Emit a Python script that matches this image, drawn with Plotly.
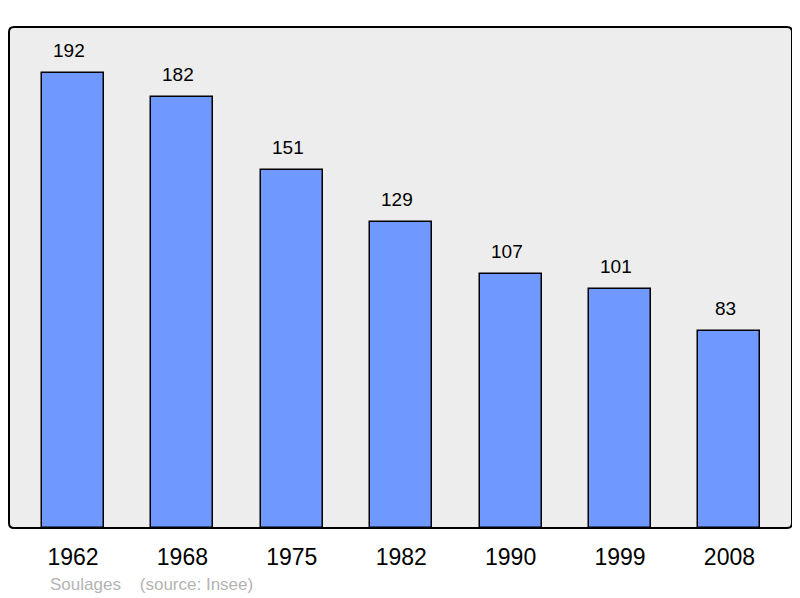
import plotly.graph_objects as go

years = ["1962", "1968", "1975", "1982", "1990", "1999", "2008"]
population = [192, 182, 151, 129, 107, 101, 83]
commune = "Soulages"
source = "(source: Insee)"

xpos = list(range(len(years)))
FONT = "Liberation Sans, Arial, sans-serif"

fig = go.Figure()
fig.add_trace(go.Bar(
    x=xpos, y=population, width=0.567,
    marker=dict(color="#7099ff", line=dict(color="#000000", width=1.5)),
    hoverinfo="skip",
))

for x, v in zip(xpos, population):
    fig.add_annotation(x=x, y=v, text=str(v), showarrow=False,
                       yanchor="bottom", yshift=10, xshift=-4,
                       font=dict(family=FONT, size=19, color="#000000"))

fig.add_annotation(xref="paper", yref="paper", x=0.0498, y=-0.1118,
                   xanchor="left", yanchor="middle", showarrow=False,
                   text=commune + "&nbsp;&nbsp;&nbsp;&nbsp;" + source,
                   font=dict(family=FONT, size=17, color="#b4b4b4"))

rx, ry = 5 / 783, 5 / 501
path = (f"M {rx},0 L {1-rx},0 Q 1,0 1,{ry} L 1,{1-ry} Q 1,1 {1-rx},1 "
        f"L {rx},1 Q 0,1 0,{1-ry} L 0,{ry} Q 0,0 {rx},0 Z")
fig.add_shape(type="path", xref="paper", yref="paper", path=path,
              line=dict(color="#000000", width=2), layer="above")

fig.update_layout(
    width=792, height=590,
    margin=dict(l=1, r=8, t=19, b=70),
    paper_bgcolor="#ffffff", plot_bgcolor="#ededed",
    showlegend=False,
    bargap=0,
    xaxis=dict(range=[-0.585, 6.572], tickvals=xpos, ticktext=years,
               showgrid=False, zeroline=False, ticks="outside", ticklen=8,
               tickcolor="rgba(0,0,0,0)",
               tickfont=dict(family=FONT, size=23, color="#000000"), fixedrange=True),
    yaxis=dict(range=[0, 211.4], showgrid=False, zeroline=False,
               showticklabels=False, fixedrange=True),
)

fig.write_html("out.html")
